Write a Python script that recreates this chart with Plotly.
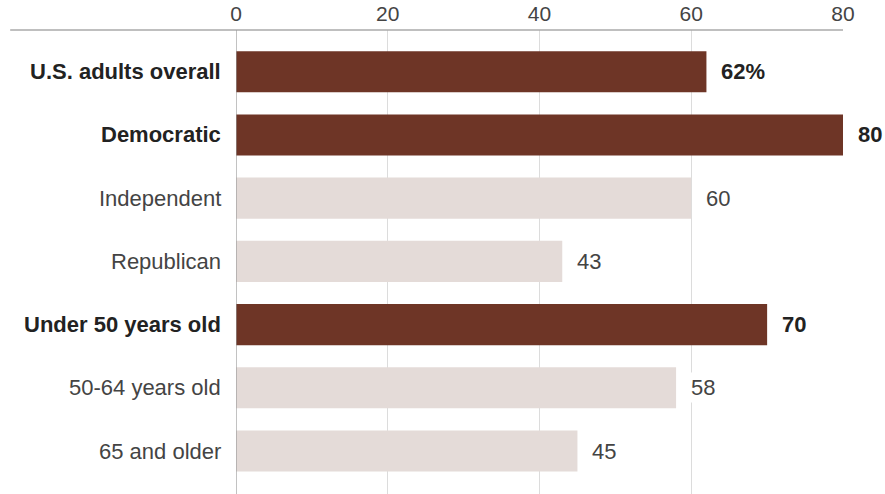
import plotly.graph_objects as go

categories = ["U.S. adults overall", "Democratic", "Independent", "Republican",
              "Under 50 years old", "50-64 years old", "65 and older"]
values = [62, 80, 60, 43, 70, 58, 45]
value_labels = ["62%", "80", "60", "43", "70", "58", "45"]
highlight = [True, True, False, False, True, False, False]
tick_vals = [0, 20, 40, 60, 80]

DARK = "#6E3526"
LIGHT = "#E4DBD8"
FONT = "Liberation Sans, Arial, sans-serif"
FS = 22

colors = [DARK if h else LIGHT for h in highlight]

fig = go.Figure(go.Bar(
    x=values, y=categories, orientation="h",
    marker=dict(color=colors, line=dict(width=0)),
    width=0.65, hoverinfo="skip",
))

annotations = []
for cat, v, lab, h in zip(categories, values, value_labels, highlight):
    annotations.append(dict(
        x=v, y=cat, xref="x", yref="y", text=f"<b>{lab}</b>" if h else lab,
        showarrow=False, xanchor="left", xshift=12, bgcolor="white", borderpad=2,
        font=dict(family=FONT, size=FS, color="#222" if h else "#444"),
    ))
    annotations.append(dict(
        x=0, y=cat, xref="paper", yref="y", text=f"<b>{cat}</b>" if h else cat,
        showarrow=False, xanchor="right", xshift=-13,
        font=dict(family=FONT, size=FS, color="#222" if h else "#444"),
    ))

fig.update_layout(
    width=885, height=494,
    margin=dict(l=236, r=42, t=30, b=0),
    plot_bgcolor="white", paper_bgcolor="white",
    showlegend=False, bargap=0.35,
    annotations=annotations,
    xaxis=dict(
        side="top", range=[0, 80], tickvals=tick_vals,
        showgrid=True, gridcolor="#DCDCDC", gridwidth=1,
        zeroline=False, showline=False, ticks="",
        tickfont=dict(family=FONT, size=21, color="#444"),
        ticklabelstandoff=4,
        fixedrange=True,
    ),
    yaxis=dict(
        categoryorder="array", categoryarray=categories,
        range=[6.68, -0.66], showticklabels=False, showgrid=False,
        zeroline=False, showline=False, ticks="", fixedrange=True,
    ),
    shapes=[
        dict(type="line", xref="paper", yref="paper", x0=-0.372, x1=1.0, y0=1, y1=1,
             line=dict(color="#AAAAAA", width=1.5), layer="above"),
        dict(type="line", xref="x", yref="paper", x0=0, x1=0, y0=0, y1=1,
             line=dict(color="#999999", width=1.2), layer="above"),
    ],
)

fig.write_html(
    "out.html",
    config={"displayModeBar": False},
    post_script="document.body.style.margin='0';document.body.style.overflow='hidden';",
)
